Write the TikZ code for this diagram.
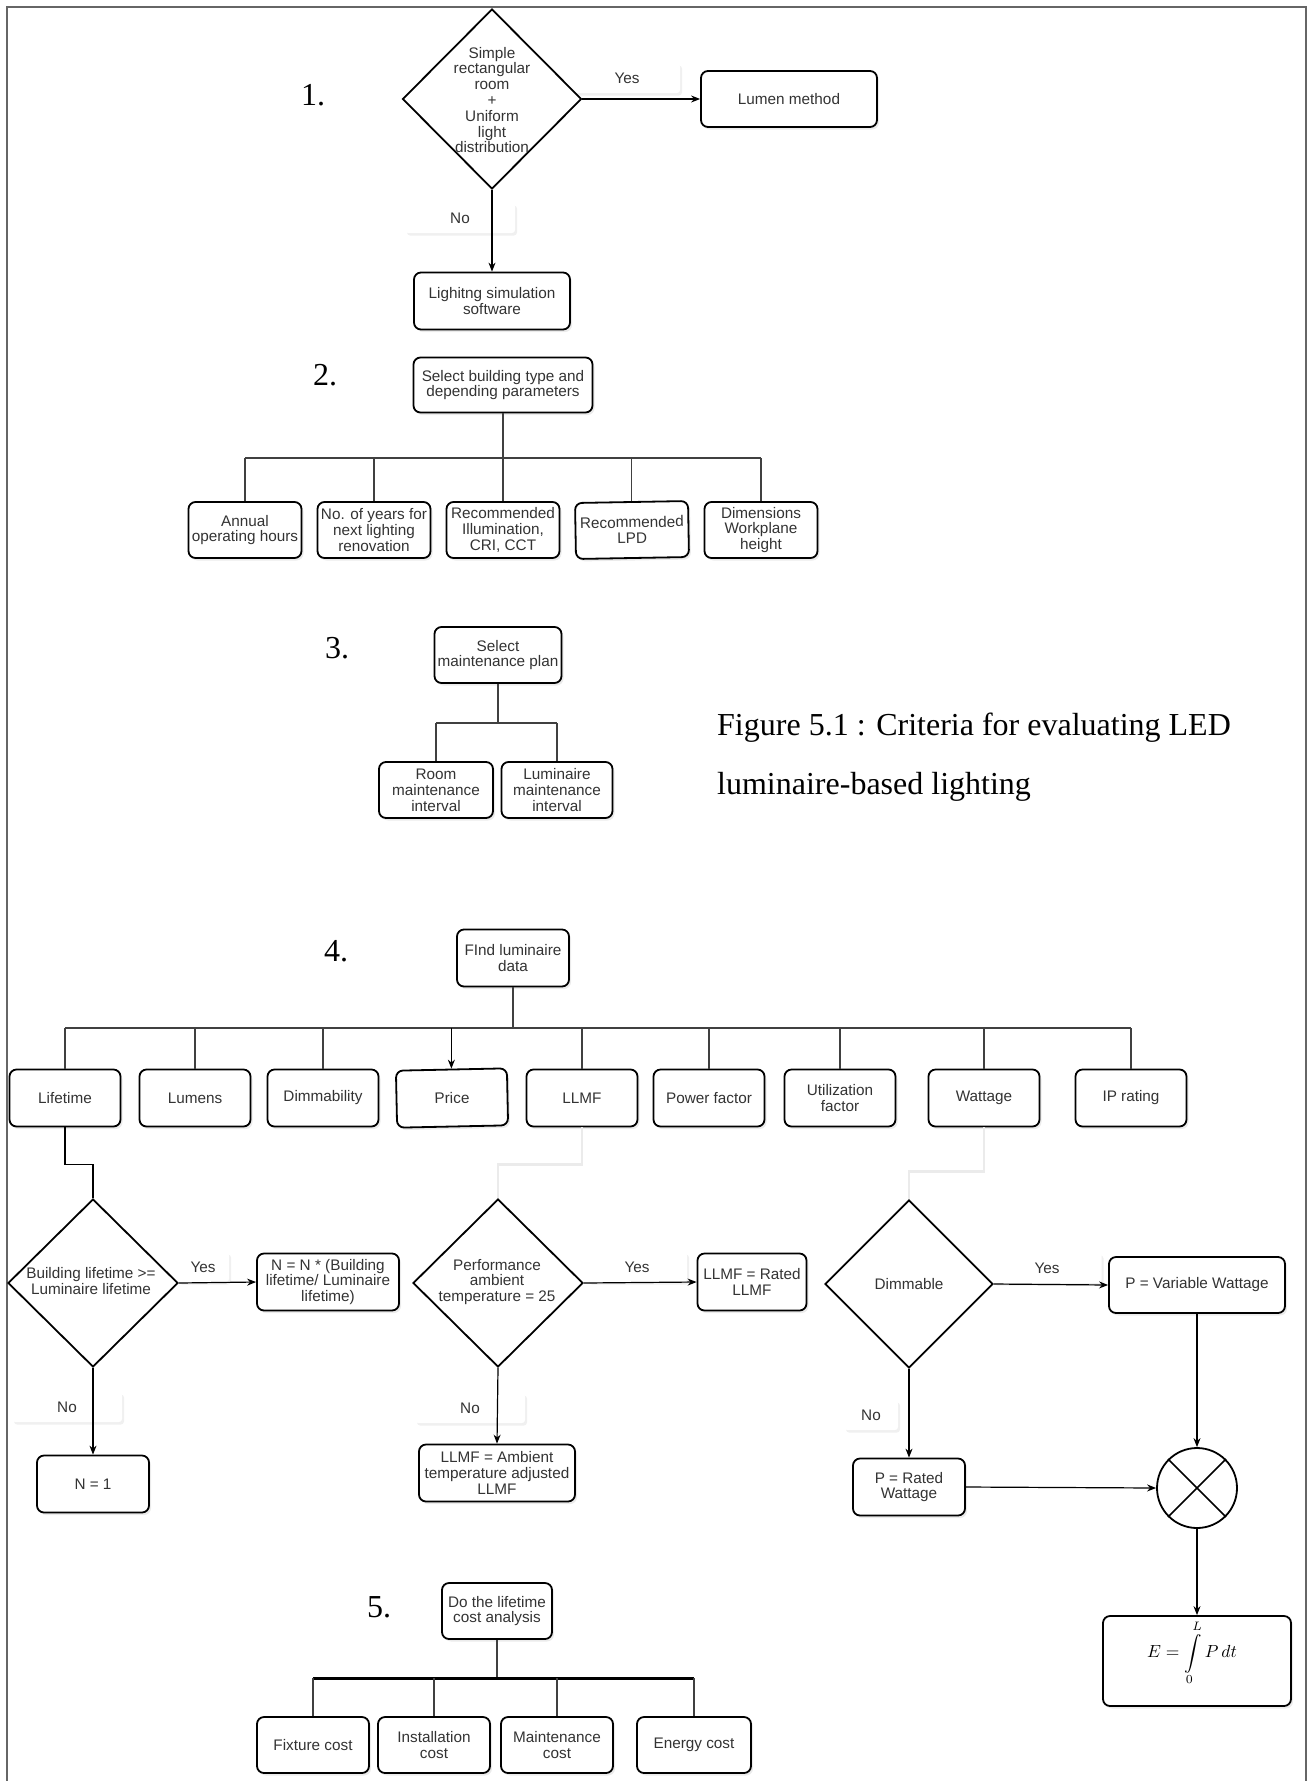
\documentclass[tikz,border=0pt]{standalone}
\usepackage[no-math]{fontspec}
\usepackage{graphicx}
\setmainfont{Liberation Sans}
\newfontfamily\serifcap{Liberation Serif}
\usetikzlibrary{shapes.geometric,arrows.meta,shadows}
\definecolor{txt}{HTML}{333333}
\definecolor{frm}{HTML}{666666}
\newcommand\boxfnt{\fontsize{15.3}{15.8}\selectfont}
\tikzset{
  wh/.style 2 args={minimum width=#1, minimum height=#2},
  box/.style={draw=black, line width=1.8pt, rounded corners=7pt, fill=white, align=center,
    text=txt, font=\boxfnt, inner sep=1pt,
    drop shadow={shadow xshift=2pt, shadow yshift=-2.5pt, opacity=0.16}},
  dia/.style={draw=black, line width=1.8pt, diamond, fill=white, inner sep=0pt},
  dtxt/.style={align=center, text=txt, font=\boxfnt, inner sep=0pt},
  lbl/.style={fill=white, text=txt, font=\boxfnt, rounded corners=3pt,
    drop shadow={shadow xshift=2pt, shadow yshift=-2.5pt, opacity=0.12}},
  arr/.style={-{Stealth[length=9pt,width=7pt]}, line width=1.2pt, draw=black},
  ln/.style={line width=1.2pt, draw=black!75},
  thickln/.style={line width=3pt, draw=black},
  faint/.style={line width=2.5pt, draw=black!8},
  num/.style={font=\serifcap\fontsize{32}{32}\selectfont, text=black},
  captxt/.style={font=\serifcap\fontsize{32}{32}\selectfont, text=black, inner sep=0pt},
}
\begin{document}
\begin{tikzpicture}[x=1pt,y=-1pt]
\useasboundingbox (0,0) rectangle (1315,1781);
\draw[draw=frm, line width=2pt] (7,1781) -- (7,7) -- (1306,7) -- (1306,1781);

% ---------------- Section 1
\node[num] (s1) at (313,95) {1.};
\node[lbl, wh={106}{30}] (y1) at (627,78) {Yes};
\node[lbl, wh={110}{30}] (no1) at (460,218) {No};
\node[dia, minimum width=179, minimum height=180] (d1) at (492,99) {};
\node[dtxt] (d1t) at (492,100) {Simple\\rectangular\\room\\+\\Uniform\\light\\distribution};
\node[box, wh={176}{56}] (lumen) at (789,99) {Lumen method};
\node[box, wh={156}{57}] (sim) at (492,301) {Lighitng simulation\\software};
\draw[arr] (d1.east) -- (lumen.west);
\draw[arr] (d1.south) -- (sim.north);

% ---------------- Section 2
\node[num] (s2) at (325,375) {2.};
\node[box, wh={179}{55}] (sel2) at (503,385) {Select building type and\\depending parameters};
\node[box, wh={113}{56}] (a1) at (245,530) {Annual\\operating hours};
\node[box, wh={113}{56}] (a2) at (374,530) {No. of years for\\next lighting\\renovation};
\node[box, wh={113}{56}] (a3) at (503,530) {Recommended\\Illumination,\\CRI, CCT};
\node[box, wh={113}{56}, rotate=1] (a4) at (632,530) {Recommended\\LPD};
\node[box, wh={113}{56}] (a5) at (761,530) {Dimensions\\Workplane\\height};
\coordinate (b2) at (503,458);
\draw[ln] (sel2.south) -- (b2);
\draw[ln] (a1.north |- b2) -- (a5.north |- b2);
\foreach \c in {a1,a2,a3,a4,a5} \draw[ln] (\c.north |- b2) -- (\c.north);

% ---------------- Section 3
\node[num] (s3) at (337,648) {3.};
\node[box, wh={127}{56}] (sel3) at (498,655) {Select\\maintenance plan};
\node[box, wh={114}{56}] (room) at (436,790) {Room\\maintenance\\interval};
\node[box, wh={111}{56}] (lumi) at (557,790) {Luminaire\\maintenance\\interval};
\coordinate (b3) at (498,723);
\draw[ln] (sel3.south) -- (b3);
\draw[ln] (room.north |- b3) -- (lumi.north |- b3);
\foreach \c in {room,lumi} \draw[ln] (\c.north |- b3) -- (\c.north);
\node[captxt, anchor=base west] (cap1) at (717,735) {Figure 5.1 : Criteria for evaluating LED};
\node[captxt, anchor=base west] (cap2) at (717,794) {luminaire-based lighting};

% ---------------- Section 4
\node[num] (s4) at (336,951) {4.};
\node[box, wh={112}{57}] (find) at (513,958) {FInd luminaire\\data};
\node[box, wh={111}{57}] (life) at (65,1098) {Lifetime};
\node[box, wh={111}{57}] (lumens) at (195,1098) {Lumens};
\node[box, wh={111}{57}] (dimm) at (323,1098) {Dimmability};
\node[box, wh={111}{57}, rotate=1.2] (price) at (452,1098) {Price};
\node[box, wh={111}{57}] (llmf) at (582,1098) {LLMF};
\node[box, wh={111}{57}] (pf) at (709,1098) {Power factor};
\node[box, wh={111}{57}] (uf) at (840,1098) {Utilization\\factor};
\node[box, wh={111}{57}] (watt) at (984,1098) {Wattage};
\node[box, wh={111}{57}] (ip) at (1131,1098) {IP rating};
\coordinate (b4) at (513,1028);
\draw[ln] (find.south) -- (b4);
\draw[ln] (life.north |- b4) -- (ip.north |- b4);
\foreach \c in {life,lumens,dimm,llmf,pf,uf,watt,ip} \draw[ln] (\c.north |- b4) -- (\c.north);
\draw[arr] (price.north |- b4) -- (price.north);

% connectors from the data boxes to the decisions
\draw[faint] (llmf.south) -- ++(0,37) -| (498,1198);
\draw[faint] (watt.south) -- ++(0,44) -| (909,1200);

% labels
\node[lbl, wh={52}{30}] (y2) at (203,1267) {Yes};
\node[lbl, wh={110}{30}] (no2) at (67,1407) {No};
\node[lbl, wh={100}{30}] (y3) at (637,1267) {Yes};
\node[lbl, wh={110}{30}] (no3) at (470,1408) {No};
\node[lbl, wh={109}{30}] (y4) at (1047,1268) {Yes};
\node[lbl, wh={54}{30}] (no4) at (871,1415) {No};

% decisions
\node[dia, minimum width=170, minimum height=168] (d2) at (93,1283) {};
\node[dtxt] (d2t) at (91,1281) {Building lifetime >=\\Luminaire lifetime};
\node[dia, minimum width=170, minimum height=168] (d3) at (498,1283) {};
\node[dtxt] (d3t) at (497,1282) {Performance\\ambient\\temperature = 25};
\node[dia, minimum width=168, minimum height=168] (d4) at (909,1284) {};
\node[dtxt] (d4t) at (909,1284) {Dimmable};

\draw[ln, draw=black] (life.south) -- ++(0,37) -| (d2.north);

\node[box, wh={142}{57}] (nn) at (328,1282) {N = N * (Building\\lifetime/ Luminaire\\lifetime)};
\node[box, wh={112}{57}] (none) at (93,1484) {N = 1};
\node[box, wh={109}{57}] (llmfr) at (752,1282) {LLMF = Rated\\LLMF};
\node[box, wh={156}{57}] (llmfa) at (497,1473) {LLMF = Ambient\\temperature adjusted\\LLMF};
\node[box, wh={176}{56}] (pvar) at (1197,1285) {P = Variable Wattage};
\node[box, wh={112}{57}] (prated) at (909,1487) {P = Rated\\Wattage};
\node[draw=black, line width=1.8pt, circle, minimum size=80, inner sep=0pt, fill=white] (mult) at (1197,1488) {};
\draw[line width=1.5pt] (mult.north west) -- (mult.south east) (mult.north east) -- (mult.south west);
\node[box, wh={188}{90}] (ebox) at (1197,1661) {};
\node[inner sep=0pt, text=black] (eform) at (1192,1653)
  {\scalebox{1.75}{$E=\displaystyle\int\limits_0^L P\,dt$}};

\draw[arr] (d2.east) -- (nn.west);
\draw[arr] (d2.south) -- (none.north);
\draw[arr] (d3.east) -- (llmfr.west);
\draw[arr] (d3.south) -- (llmfa.north);
\draw[arr] (d4.east) -- (pvar.west);
\draw[arr] (d4.south) -- (prated.north);
\draw[arr] (prated.east) -- (mult.west);
\draw[arr] (pvar.south) -- (mult.north);
\draw[arr] (mult.south) -- (ebox.north);

% ---------------- Section 5
\node[num] (s5) at (379,1607) {5.};
\node[box, wh={110}{56}] (cost) at (497,1611) {Do the lifetime\\cost analysis};
\node[box, wh={112}{56}] (fix) at (313,1745) {Fixture cost};
\node[box, wh={112}{56}] (inst) at (434,1745) {Installation\\cost};
\node[box, wh={112}{56}] (mnt) at (557,1745) {Maintenance\\cost};
\node[box, wh={114}{56}] (ener) at (694,1745) {Energy cost};
\coordinate (b5) at (497,1678);
\draw[ln] (cost.south) -- (b5);
\draw[thickln] (fix.north |- b5) -- (ener.north |- b5);
\foreach \c in {fix,inst,mnt,ener} \draw[ln] (\c.north |- b5) -- (\c.north);
\end{tikzpicture}
\end{document}
